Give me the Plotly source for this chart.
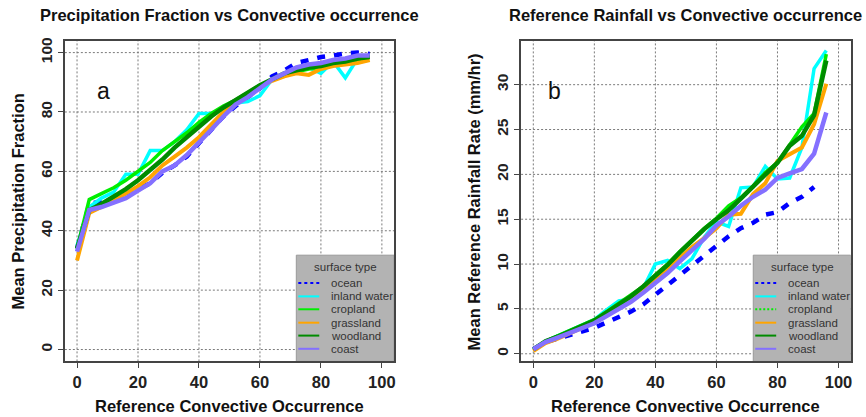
import plotly.graph_objects as go

W, H = 866, 417

# ---------------- data ----------------
conv_occ = [0, 4, 8, 12, 16, 20, 24, 28, 32, 36, 40, 44, 48, 52, 56, 60, 64, 68, 72, 76, 80, 84, 88, 92, 96]
surface_types = ["ocean", "inland water", "cropland", "grassland", "woodland", "coast"]

# panel a: Mean Precipitation Fraction
frac_ocean = [34, 49, 50, 51, 52, 54, 56, 59.5, 62, 65, 69.5, 74, 78.5, 82, 85, 88, 92, 94, 96.5, 97.5, 98.5, 99, 99.7, 100, 99.5]
frac_inland = [35, 48, 51, 53, 59, 59, 67, 67, 70, 74, 79.5, 79.5, 81, 83, 83.5, 85.5, 91, 93, 94, 95, 93, 97, 91.5, 98, 99]
frac_crop = [34, 50.5, 52.5, 54.5, 57, 60, 63, 67, 70, 73, 76.5, 79.5, 82, 84, 86.5, 89, 91, 92.5, 93.5, 94.5, 95, 96, 96.5, 97.5, 98.5]
frac_grass = [30, 46, 48, 50, 52.5, 55, 58, 62, 65, 68, 71.5, 76, 80, 83, 86, 88.5, 90.5, 92, 93, 92.5, 94.5, 95.5, 96, 96.5, 97.5]
frac_wood = [34, 47, 49, 51.5, 54, 57, 60.5, 64, 68, 71.5, 75, 78.5, 81.5, 84, 86.5, 89, 91, 93, 94, 95, 95.5, 96.5, 97, 98, 98.5]
frac_coast = [33, 47, 48, 49.5, 51, 53.5, 56, 60, 62, 65.5, 69.5, 74, 78.5, 82.5, 85, 88, 91, 93, 95, 96, 96.5, 97.5, 98, 99, 99]

# panel b: Mean Reference Rainfall Rate (mm/hr)
rate_ocean = [0.5, 1.3, 1.7, 2.1, 2.5, 2.9, 3.5, 4.1, 4.7, 5.5, 6.6, 7.6, 8.8, 9.9, 11.0, 12.0, 13.1, 14.0, 14.6, 15.5, 15.8, 16.8, 17.5, 18.6, None]
rate_inland = [0.5, 1.4, 2.0, 2.6, 3.1, 3.8, 4.9, 5.9, 6.1, 7.3, 10.0, 10.4, 9.5, 10.6, 13.0, 14.7, 14.2, 18.5, 18.6, 20.9, 19.5, 19.6, 23.0, 31.8, 33.8]
rate_crop = [0.5, 1.4, 2.0, 2.6, 3.2, 3.8, 4.7, 5.6, 6.5, 7.5, 8.8, 10.0, 11.4, 12.7, 14.0, 15.1, 16.5, 17.4, 18.7, 20.2, 21.3, 23.3, 25.3, 26.8, 33.4]
rate_grass = [0.3, 1.2, 1.7, 2.3, 2.9, 3.5, 4.3, 5.1, 6.0, 7.1, 8.3, 9.5, 10.8, 11.9, 12.9, 14.0, 15.5, 15.6, 17.8, 19.0, 21.5, 22.3, 23.0, 25.6, 30.1]
rate_wood = [0.5, 1.4, 1.9, 2.5, 3.1, 3.7, 4.6, 5.5, 6.4, 7.5, 8.7, 9.9, 11.3, 12.6, 13.9, 15.0, 16.0, 17.3, 18.6, 20.0, 21.3, 23.2, 24.3, 26.6, 32.7]
rate_coast = [0.5, 1.3, 1.8, 2.3, 2.8, 3.4, 4.2, 5.0, 5.8, 6.8, 7.9, 9.0, 10.3, 11.6, 12.8, 14.3, 15.3, 16.5, 17.5, 18.3, 19.6, 20.1, 20.6, 22.3, 26.9]

x_ticks = [0, 20, 40, 60, 80, 100]
frac_ticks = [0, 20, 40, 60, 80, 100]
rate_ticks = [0, 5, 10, 15, 20, 25, 30]

# ---------------- styles ----------------
colors = {"ocean": "#0000FF", "inland water": "#00FFFF", "cropland": "#00EE00",
          "grassland": "#FFA500", "woodland": "#008B00", "coast": "#8470FF"}
widths = {"ocean": 4.5, "inland water": 3.5, "cropland": 3.5,
          "grassland": 4, "woodland": 4.5, "coast": 4.5}
dashes = {"ocean": "8px,9px"}

frac_data = [frac_ocean, frac_inland, frac_crop, frac_grass, frac_wood, frac_coast]
rate_data = [rate_ocean, rate_inland, rate_crop, rate_grass, rate_wood, rate_coast]

fig = go.Figure()
for name, ys in zip(surface_types, frac_data):
    fig.add_trace(go.Scatter(x=conv_occ, y=ys, mode="lines", name=name, showlegend=False,
                             line=dict(color=colors[name], width=widths[name],
                                       dash=dashes.get(name, "solid")),
                             xaxis="x", yaxis="y"))
for name, ys in zip(surface_types, rate_data):
    fig.add_trace(go.Scatter(x=conv_occ, y=ys, mode="lines", name=name, showlegend=False,
                             line=dict(color=colors[name], width=widths[name],
                                       dash=dashes.get(name, "solid")),
                             xaxis="x2", yaxis="y2"))


def fx(p):
    return p / W


def fy(p):
    return 1 - p / H


ydom = [fy(361), fy(38)]
axis_common = dict(showline=True, mirror=True, linecolor="#444444", linewidth=1.5,
                   ticks="outside", ticklen=5, tickcolor="#444444", tickwidth=1.2,
                   showgrid=False, zeroline=False)
tfx = dict(family="Liberation Sans, Arial, sans-serif", size=16.5, color="#222222", weight="bold")
tfy = dict(family="Liberation Sans, Arial, sans-serif", size=15.5, color="#222222", weight="bold")

panels = [
    dict(xa="x", ya="y", px0=65, px1=395, xr=[-4, 104], yr=[-4, 104], yt=frac_ticks),
    dict(xa="x2", ya="y2", px0=522.3, px1=852.7, xr=[-4, 104], yr=[-0.85, 34.9], yt=rate_ticks),
]
PY0, PY1 = 361, 38

fig.update_layout(
    width=W, height=H,
    margin=dict(l=0, r=0, t=0, b=0),
    paper_bgcolor="white", plot_bgcolor="white",
    showlegend=False,
    xaxis=dict(domain=[fx(65), fx(395)], range=panels[0]["xr"], tickvals=x_ticks,
               anchor="y", tickfont=tfx, **axis_common),
    yaxis=dict(domain=ydom, range=panels[0]["yr"], tickvals=frac_ticks, anchor="x",
               tickangle=-90, tickfont=tfy, **axis_common),
    xaxis2=dict(domain=[fx(522.3), fx(852.7)], range=panels[1]["xr"], tickvals=x_ticks,
                anchor="y2", tickfont=tfx, **axis_common),
    yaxis2=dict(domain=ydom, range=panels[1]["yr"], tickvals=rate_ticks, anchor="x2",
                tickangle=-90, tickfont=tfy, **axis_common),
)

font_b = dict(family="Liberation Sans, Arial, sans-serif", size=16.5, color="#111111", weight="bold")
ann = []
ann.append(dict(text="Precipitation Fraction vs Convective occurrence", x=fx(230), y=fy(12), font=font_b))
ann.append(dict(text="Reference Rainfall vs Convective occurrence", x=fx(687), y=fy(12), font=font_b))
ann.append(dict(text="Reference Convective Occurrence", x=fx(230), y=fy(406), font=font_b))
ann.append(dict(text="Reference Convective Occurrence", x=fx(687), y=fy(406), font=font_b))
ann.append(dict(text="Mean Precipitation Fraction", x=fx(18), y=fy(200), font=font_b, textangle=-90))
ann.append(dict(text="Mean Reference Rainfall Rate (mm/hr)", x=fx(475), y=fy(200), font=font_b, textangle=-90))
panel_font = dict(family="Liberation Sans, Arial, sans-serif", size=23, color="#111111")
ann.append(dict(text="a", x=fx(104), y=fy(89), font=panel_font))
ann.append(dict(text="b", x=fx(556), y=fy(89), font=panel_font))

shapes = []
grid_line = dict(color="#7a7a7a", width=1, dash="2px,2px")
leg_font = dict(family="Liberation Sans, Arial, sans-serif", size=11.5, color="#333333")
item_y = [282, 295.5, 308.5, 322, 335, 348.3]
for off, dotted_crop, pn in [(0, False, panels[0]), (458, True, panels[1])]:
    def dx(p, pn=pn):
        return pn["xr"][0] + (p - pn["px0"]) / (pn["px1"] - pn["px0"]) * (pn["xr"][1] - pn["xr"][0])

    def dy(p, pn=pn):
        return pn["yr"][0] + (PY0 - p) / (PY0 - PY1) * (pn["yr"][1] - pn["yr"][0])

    # legend box (below the grid, as in the original)
    shapes.append(dict(type="rect", xref=pn["xa"], yref=pn["ya"],
                       x0=dx(297 + off), x1=pn["xr"][1], y0=pn["yr"][0], y1=dy(254),
                       fillcolor="#b3b3b3", line=dict(color="#999999", width=1), layer="below"))
    # dotted grid at the tick positions
    for t in x_ticks:
        shapes.append(dict(type="line", xref=pn["xa"], yref=pn["ya"] + " domain",
                           x0=t, x1=t, y0=0, y1=1, line=grid_line, layer="below"))
    for t in pn["yt"]:
        shapes.append(dict(type="line", xref=pn["xa"] + " domain", yref=pn["ya"],
                           x0=0, x1=1, y0=t, y1=t, line=grid_line, layer="below"))

    ann.append(dict(text="surface type", x=fx(346 + off), y=fy(266), font=leg_font))
    for name, yy in zip(surface_types, item_y):
        if name == "ocean":
            dash = "3px,3px"
        elif name == "cropland" and dotted_crop:
            dash = "2px,2px"
        else:
            dash = "solid"
        shapes.append(dict(type="line", xref="paper", yref="paper",
                           x0=fx(299 + off), x1=fx(320 + off), y0=fy(yy), y1=fy(yy),
                           line=dict(color=colors[name], width=2, dash=dash)))
        ann.append(dict(text=name, x=fx(330 + off), y=fy(yy), xanchor="left", font=leg_font))

for a in ann:
    a.setdefault("xanchor", "center")
    a.update(xref="paper", yref="paper", yanchor="middle", showarrow=False)

fig.update_layout(annotations=ann, shapes=shapes)
fig.write_html("out.html")
